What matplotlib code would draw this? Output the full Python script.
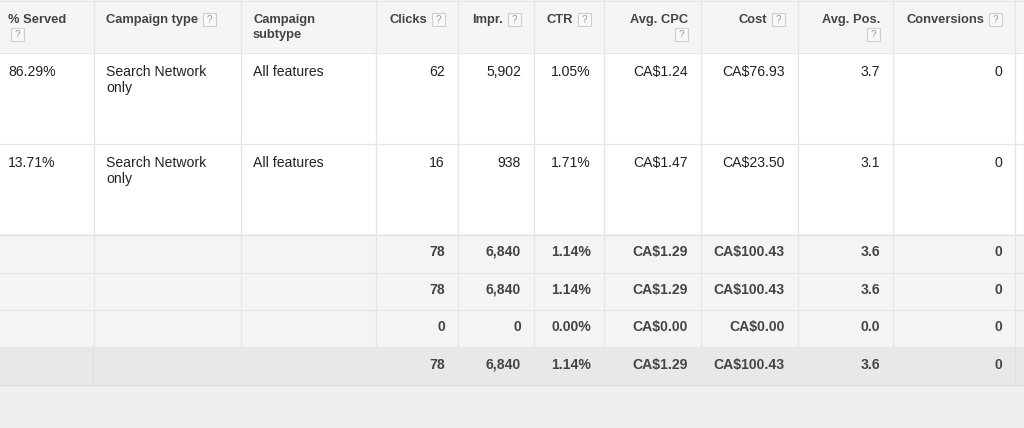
import matplotlib
matplotlib.use("Agg")
import matplotlib.pyplot as plt
from matplotlib.patches import Rectangle

# ---- data ----
headers = ["% Served", "Campaign type", "Campaign\nsubtype", "Clicks", "Impr.", "CTR",
           "Avg. CPC", "Cost", "Avg. Pos.", "Conversions"]
served = ["86.29%", "13.71%"]
campaign_type = ["Search Network\nonly", "Search Network\nonly"]
campaign_subtype = ["All features", "All features"]
clicks = [62, 16]
impr = [5902, 938]
ctr = ["1.05%", "1.71%"]
avg_cpc = ["CA$1.24", "CA$1.47"]
cost = ["CA$76.93", "CA$23.50"]
avg_pos = ["3.7", "3.1"]
conversions = [0, 0]

sum_clicks = [78, 78, 0, 78]
sum_impr = [6840, 6840, 0, 6840]
sum_ctr = ["1.14%", "1.14%", "0.00%", "1.14%"]
sum_cpc = ["CA$1.29", "CA$1.29", "CA$0.00", "CA$1.29"]
sum_cost = ["CA$100.43", "CA$100.43", "CA$0.00", "CA$100.43"]
sum_pos = ["3.6", "3.6", "0.0", "3.6"]
sum_conv = [0, 0, 0, 0]

# ---- layout ----
W, H = 1024, 428
fig = plt.figure(figsize=(W / 100, H / 100), dpi=100)
ax = fig.add_axes([0, 0, 1, 1])
ax.set_xlim(0, W)
ax.set_ylim(H, 0)
ax.axis("off")

FONT = "Liberation Sans"
col_edges = [0, 94, 241, 376, 458, 534, 604, 701, 798, 893, 1015, 1024]
align = ["left"] * 3 + ["right"] * 7
LINE = "#e6e6e6"

header_bg = "#f5f5f5"
sum_bg = "#f4f4f4"
total_bg = "#e8e8e8"
bottom_bg = "#efefef"

row_edges_data = [52, 143, 234]
sum_edges = [234, 272, 309, 347, 384]

# backgrounds
ax.add_patch(Rectangle((0, 0), W, 52, color=header_bg, zorder=0))
ax.add_patch(Rectangle((0, 52), W, 182, color="white", zorder=0))
for i in range(4):
    c = total_bg if i == 3 else sum_bg
    ax.add_patch(Rectangle((0, sum_edges[i]), W, sum_edges[i + 1] - sum_edges[i], color=c, zorder=0))
ax.add_patch(Rectangle((0, 384), W, H - 384, color=bottom_bg, zorder=0))

# horizontal lines (offset by half a pixel for crisp 1px lines)
for y in [52, 143, 234, 272, 309, 347]:
    ax.plot([0, W], [y + 0.5, y + 0.5], color=LINE, lw=1, zorder=1)
ax.plot([0, W], [384.5, 384.5], color="#d9d9d9", lw=1, zorder=1)
ax.plot([0, W], [0.5, 0.5], color=LINE, lw=1, zorder=1)

# vertical lines
for x in col_edges[1:-1]:
    ax.plot([x - 0.5, x - 0.5], [0, 347], color=LINE, lw=1, zorder=1)
for x in [93, 1015]:
    ax.plot([x - 0.5, x - 0.5], [347, 384], color="#e0e0e0", lw=1, zorder=1)


def text_x(ci):
    if align[ci] == "left":
        return col_edges[ci] + (8 if ci == 0 else 12)
    return col_edges[ci + 1] - 13


def help_box(xr, yc):
    s = 13
    ax.add_patch(Rectangle((xr - s, yc - s / 2), s, s, facecolor="#f9f9f9",
                           edgecolor="#cfcfcf", lw=0.8, zorder=3))
    ax.text(xr - s / 2, yc + 0.5, "?", fontsize=7, color="#9a9a9a", ha="center",
            va="center", family=FONT, zorder=4)


HC = "#444444"
HFS = 9.3
HB1, HB2 = 23, 38  # header baselines


def htext(x, y, s, ha):
    ax.text(x, y, s, fontsize=HFS, fontweight="bold", color=HC, ha=ha,
            va="baseline", family=FONT)


for ci, h in enumerate(headers):
    x = text_x(ci)
    if ci == 0:
        htext(x, HB1, h, "left")
        help_box(x + 16, 34)
    elif ci == 2:
        l1, l2 = h.split("\n")
        htext(x, HB1, l1, "left")
        htext(x, HB2, l2, "left")
    elif h in ("Avg. CPC", "Avg. Pos."):
        htext(x, HB1, h, "right")
        help_box(x, 34)
    elif ci == 1:
        htext(x, HB1, h, "left")
        help_box(216, 19)
    else:
        htext(x - 18, HB1, h, "right")
        help_box(x, 19)

# data rows
DC = "#222222"
DFS = 10.1
for r in range(2):
    top = row_edges_data[r]
    b1 = top + 24
    vals = [served[r], campaign_type[r], campaign_subtype[r], f"{clicks[r]:,}", f"{impr[r]:,}",
            ctr[r], avg_cpc[r], cost[r], avg_pos[r], f"{conversions[r]:,}"]
    for ci, v in enumerate(vals):
        x = text_x(ci)
        for li, line in enumerate(v.split("\n")):
            ax.text(x, b1 + li * 16, line, fontsize=DFS, color=DC, ha=align[ci],
                    va="baseline", family=FONT)

# summary rows
SC = "#444444"
for i in range(4):
    base = sum_edges[i] + 21.8
    vals = [f"{sum_clicks[i]:,}", f"{sum_impr[i]:,}", sum_ctr[i], sum_cpc[i],
            sum_cost[i], sum_pos[i], f"{sum_conv[i]:,}"]
    for k, v in enumerate(vals):
        ci = k + 3
        ax.text(text_x(ci), base, v, fontsize=DFS, fontweight="bold", color=SC,
                ha="right", va="baseline", family=FONT)

fig.savefig("out.png", dpi=100)
